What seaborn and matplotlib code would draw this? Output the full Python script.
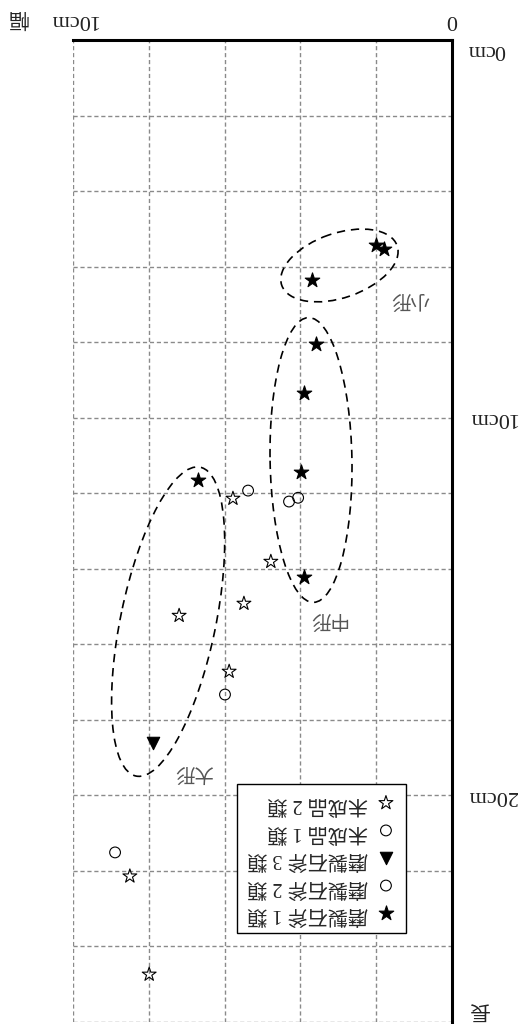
import matplotlib
matplotlib.use("Agg")
import matplotlib.pyplot as plt
import seaborn as sns
from matplotlib.patches import Ellipse

# ---------------- data (width cm, length cm) ----------------
labels = ["磨製石斧 1 類", "磨製石斧 2 類", "磨製石斧 3 類", "未成品 1 類", "未成品 2 類"]

axe1_w = [2.01, 1.79, 3.69, 3.59, 3.91, 3.98, 3.91, 6.70]
axe1_l = [5.42, 5.53, 6.35, 8.04, 9.34, 11.43, 14.23, 11.64]

axe2_w = [4.06, 4.30]
axe2_l = [12.12, 12.22]

axe3_w = [7.89]
axe3_l = [18.60]

unf1_w = [5.38, 5.99, 8.89]
unf1_l = [11.93, 17.33, 21.51]

unf2_w = [5.78, 4.78, 5.49, 7.20, 5.88, 8.50, 7.99]
unf2_l = [12.14, 13.81, 14.92, 15.24, 16.72, 22.14, 24.74]

x_ticks = [0, 2, 4, 6, 8, 10]
x_ticklabels = ["0", "", "", "", "", "10cm"]
y_ticks = list(range(0, 27, 2))
y_ticklabels = ["0cm", "", "", "", "", "10cm", "", "", "", "", "20cm", "", "", ""]

group_names = ["小形", "中形", "大形"]
group_centers = [(2.97, 5.97), (3.72, 11.12), (7.49, 15.40)]
group_sizes = [(3.22, 1.71), (7.54, 2.16), (8.35, 2.51)]
group_angles = [19, 91, 78.3]
group_label_pos = [(1.11, 6.88), (3.27, 15.34), (6.83, 19.39)]

# ---------------- figure ----------------
sns.set_theme(style="white")
plt.rcParams["font.family"] = ["Liberation Serif", "Noto Sans CJK JP", "DejaVu Sans"]

fig = plt.figure(figsize=(5.24, 10.24), dpi=100)
ax = fig.add_axes([73 / 524, 2 / 1024, (452 - 73) / 524, (1024 - 40 - 2) / 1024])

series = [
    (axe1_w, axe1_l, "*", "black", 120),
    (axe2_w, axe2_l, "o", "none", 60),
    (axe3_w, axe3_l, "v", "black", 80),
    (unf1_w, unf1_l, "o", "none", 60),
    (unf2_w, unf2_l, "*", "none", 110),
]
for (w, l, m, fc, s), lab in zip(series, labels):
    sns.scatterplot(x=w, y=l, marker=m, s=s, facecolor=fc, edgecolor="black",
                    linewidth=0.8, label=lab, ax=ax, zorder=4)

for (cx, cy), (ew, eh), ang in zip(group_centers, group_sizes, group_angles):
    ax.add_patch(Ellipse((cx, cy), ew, eh, angle=ang, fill=False, edgecolor="black",
                         linewidth=1.2, linestyle=(0, (5, 3.5)), zorder=3))
for name, (tx, ty) in zip(group_names, group_label_pos):
    ax.text(tx, ty, name, rotation=180, ha="center", va="center", fontsize=14,
            color="#555555", family=["Noto Sans CJK JP"], zorder=5)

ax.set_xlim(10, 0)
ax.set_ylim(26, 0)
ax.set_xlabel("")
ax.set_ylabel("")

ax.xaxis.tick_top()
ax.yaxis.tick_right()
ax.set_xticks(x_ticks, labels=x_ticklabels)
ax.set_yticks(y_ticks, labels=y_ticklabels)
ax.tick_params(axis="both", length=0, labelsize=16, colors="#222222")
ax.tick_params(axis="x", pad=8)
ax.tick_params(axis="y", pad=11)
for t in ax.get_xticklabels():
    t.set_rotation(180)
for i, t in enumerate(ax.get_yticklabels()):
    t.set_rotation(180)
    t.set_va("top" if i == 0 else "center")

ax.grid(True, color="#8a8a8a", linestyle=(0, (3, 2)), linewidth=1.0)
for side in ["left", "bottom"]:
    ax.spines[side].set_visible(False)
for side in ["top", "right"]:
    ax.spines[side].set_color("black")
    ax.spines[side].set_linewidth(2.2)

fig.text(17.5 / 524, 1 - 18 / 1024, "幅", rotation=180, ha="center", va="center",
         fontsize=15, family=["Noto Sans CJK JP"], color="#222222")
fig.text(478 / 524, 1 - 1010 / 1024, "長", rotation=180, ha="center", va="center",
         fontsize=15, family=["Noto Sans CJK JP"], color="#222222")

handles, labs = ax.get_legend_handles_labels()
leg = ax.legend(handles[::-1], labs[::-1], markerfirst=False, loc="upper left",
                bbox_to_anchor=(237 / 524, 1 - 784 / 1024), bbox_transform=fig.transFigure,
                borderaxespad=0, frameon=True, fancybox=False, framealpha=1,
                edgecolor="black", fontsize=14.5, labelspacing=0.42,
                handletextpad=0.4, borderpad=0.5, handlelength=1.0)
leg.get_frame().set_linewidth(1.0)
for t in leg.get_texts():
    t.set_rotation(180)
    t.set_family(["Liberation Serif", "Noto Sans CJK JP"])

fig.savefig("out.png", dpi=100)
